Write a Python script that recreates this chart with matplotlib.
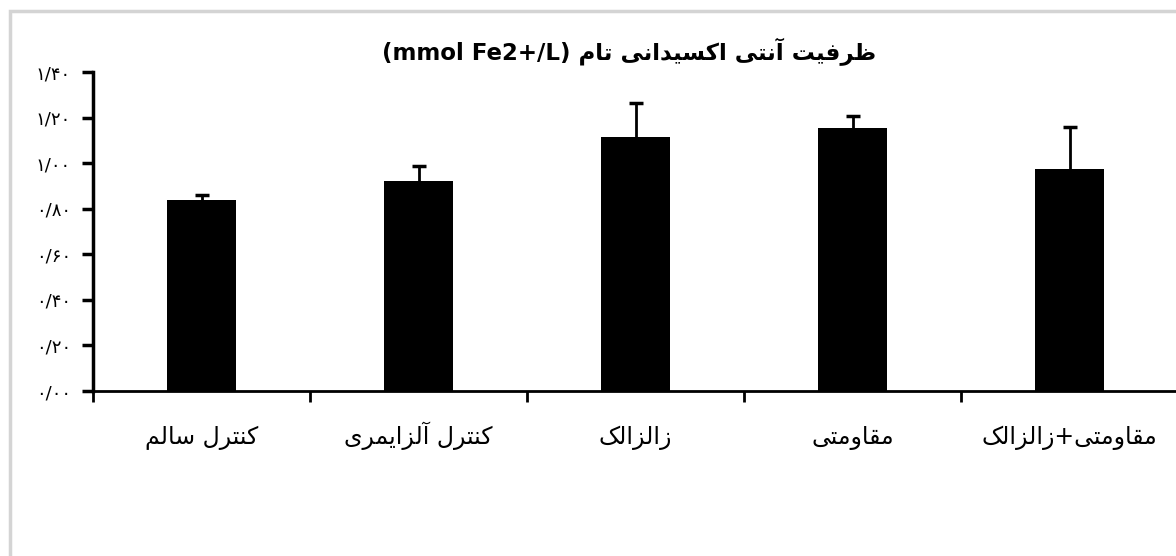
import numpy as np
import matplotlib
matplotlib.use("Agg")
import matplotlib.pyplot as plt
from matplotlib.patches import Rectangle

# Données
categories = ["کنترل سالم", "کنترل آلزایمری", "زالزالک", "مقاومتی", "مقاومتی+زالزالک"]
means = [0.84, 0.924, 1.115, 1.156, 0.974]
errors = [0.02, 0.066, 0.152, 0.053, 0.185]
yticks = [0.0, 0.2, 0.4, 0.6, 0.8, 1.0, 1.2, 1.4]
title_fa = "ظرفیت آنتی اکسیدانی تام"
title_unit = "(mmol Fe2+/L)"

# formes de présentation arabes : (isolée, finale, initiale, médiane)
FORMS = {
    'ا': ('\uFE8D', '\uFE8E'), 'آ': ('\uFE81', '\uFE82'),
    'د': ('\uFEA9', '\uFEAA'), 'ر': ('\uFEAD', '\uFEAE'),
    'ز': ('\uFEAF', '\uFEB0'), 'و': ('\uFEED', '\uFEEE'),
    'ت': ('\uFE95', '\uFE96', '\uFE97', '\uFE98'),
    'س': ('\uFEB1', '\uFEB2', '\uFEB3', '\uFEB4'),
    'ظ': ('\uFEC5', '\uFEC6', '\uFEC7', '\uFEC8'),
    'ف': ('\uFED1', '\uFED2', '\uFED3', '\uFED4'),
    'ق': ('\uFED5', '\uFED6', '\uFED7', '\uFED8'),
    'ل': ('\uFEDD', '\uFEDE', '\uFEDF', '\uFEE0'),
    'م': ('\uFEE1', '\uFEE2', '\uFEE3', '\uFEE4'),
    'ن': ('\uFEE5', '\uFEE6', '\uFEE7', '\uFEE8'),
    'ک': ('\uFB8E', '\uFB8F', '\uFB90', '\uFB91'),
    'ی': ('\uFBFC', '\uFBFD', '\uFBFE', '\uFBFF'),
}


def shape(text):
    out = []
    for i, c in enumerate(text):
        if c not in FORMS:
            out.append(c)
            continue
        prev = text[i - 1] if i > 0 else None
        nxt = text[i + 1] if i + 1 < len(text) else None
        f = FORMS[c]
        jp = prev in FORMS and len(FORMS[prev]) == 4
        jn = len(f) == 4 and nxt in FORMS
        if jp and jn:
            out.append(f[3])
        elif jp:
            out.append(f[1])
        elif jn:
            out.append(f[2])
        else:
            out.append(f[0])
    return ''.join(out)[::-1]


def fa_num(v):
    s = f"{v:.2f}".replace('.', '/')
    return s.translate(str.maketrans("0123456789", "۰۱۲۳۴۵۶۷۸۹"))


plt.rcParams['font.family'] = ['DejaVu Sans']

fig = plt.figure(figsize=(11.76, 5.56), dpi=100)
ax = fig.add_axes([93 / 1176, 165 / 556, 1085 / 1176, 0.5732])

x = np.arange(len(categories))
ax.bar(x, means, width=0.318, color='black')
eb = ax.errorbar(x, means, yerr=[np.zeros(len(errors)), errors], fmt='none',
                 ecolor='black', elinewidth=2, capsize=5, capthick=2.5)
eb[1][0].set_visible(False)  # pas de cap en bas

ax.set_xlim(-0.5, 4.5)
ax.set_ylim(0, 1.4)
ax.set_yticks(yticks)
ax.set_yticklabels([fa_num(v) for v in yticks], fontsize=13)
ax.tick_params(axis='y', direction='out', length=8, width=2.5, pad=8)

ax.set_xticks(x)
ax.set_xticklabels([shape(c) for c in categories], fontsize=17)
for lab in ax.get_xticklabels():
    lab.set_va('baseline')
ax.tick_params(axis='x', which='major', length=0, pad=38)
ax.set_xticks(np.arange(-0.5, 5, 1), minor=True)
ax.tick_params(axis='x', which='minor', direction='out', length=8, width=2)

for s in ('top', 'right'):
    ax.spines[s].set_visible(False)
ax.spines['left'].set_linewidth(2.5)
ax.spines['bottom'].set_linewidth(2)

fig.text(629 / 1176, 1 - 52 / 556, title_unit + " " + shape(title_fa),
         ha='center', va='center', fontsize=16.5, fontweight='bold')

# cadre gris
fig.patches.append(Rectangle((10 / 1176, -0.1), 1.2, 1.1 - 11 / 556,
                             transform=fig.transFigure, fill=False,
                             edgecolor='#d4d4d4', linewidth=2.5))

fig.savefig("out.png", dpi=100)
